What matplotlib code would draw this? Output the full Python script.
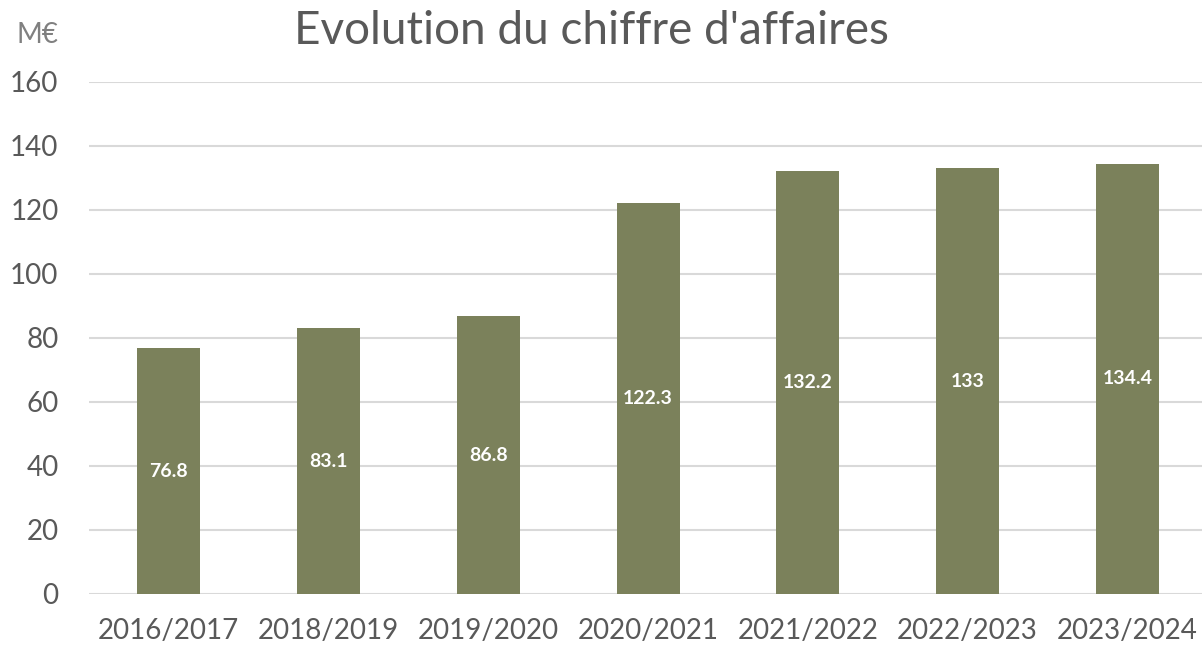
import matplotlib
matplotlib.use("Agg")
import matplotlib.pyplot as plt

periods = ["2016/2017", "2018/2019", "2019/2020", "2020/2021", "2021/2022", "2022/2023", "2023/2024"]
revenue = [76.8, 83.1, 86.8, 122.3, 132.2, 133, 134.4]
value_labels = ["76.8", "83.1", "86.8", "122.3", "132.2", "133", "134.4"]
y_ticks = [0, 20, 40, 60, 80, 100, 120, 140, 160]

plt.rcParams["font.family"] = ["Lato", "DejaVu Sans"]

W, H = 1202, 647
fig = plt.figure(figsize=(W / 100, H / 100), dpi=100)
ax = fig.add_axes([89 / W, 53 / H, (W - 89) / W, 512 / H])

x = list(range(len(periods)))
ax.bar(x, revenue, width=0.394, color="#7B815B", zorder=3)
for xi, v, lab in zip(x, revenue, value_labels):
    ax.text(xi, v / 2, lab, ha="center", va="center", color="white",
            fontsize=14, fontweight="bold", zorder=4)

ax.set_xlim(-0.5, (W - 168.5) / 159.8)
ax.set_ylim(0, 160)
ax.set_yticks(y_ticks)
ax.set_xticks(x)
ax.set_xticklabels(periods)
ax.grid(axis="y", color="#D9D9D9", linewidth=1.5, zorder=0)
ax.tick_params(axis="both", length=0, labelsize=20, labelcolor="#595959")
ax.tick_params(axis="y", pad=22)
ax.tick_params(axis="x", pad=17)
for s in ax.spines.values():
    s.set_visible(False)

fig.text(591 / W, 1 - 31 / H, "Evolution du chiffre d'affaires", ha="center", va="center",
         fontsize=33, color="#595959")
fig.text(37 / W, 1 - 35 / H, "M€", ha="center", va="center", fontsize=20, color="#808080")

fig.savefig("out.png", dpi=100)
